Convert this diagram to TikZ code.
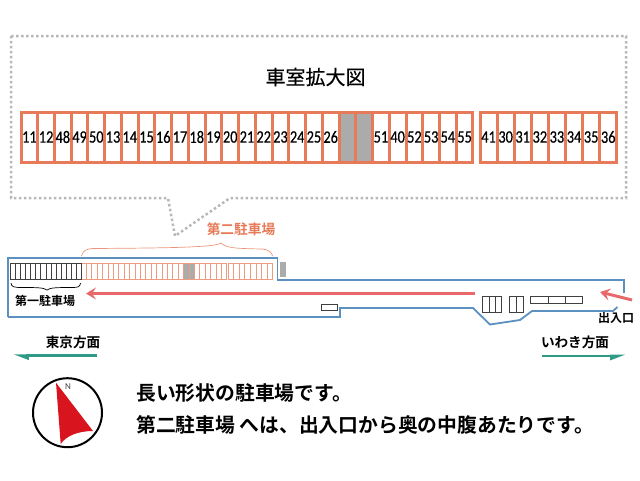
\documentclass[tikz,border=0pt]{standalone}
\usepackage{fontspec}
\usepackage{tikz}
\usetikzlibrary{
        arrows,
        arrows.meta,
        positioning
    }
\setmainfont{Carlito}
\newfontfamily\numfont[FakeStretch=0.82,FakeBold=0.5]{Carlito}
\newfontfamily\jpfont[FakeBold=0.3]{Noto Sans CJK JP}
\newfontfamily\jpboldfont{Noto Sans CJK JP Bold}
\definecolor{slotorange}{HTML}{E77B59}
\definecolor{lotblue}{HTML}{5B90C0}
\definecolor{routered}{HTML}{E8696B}
\definecolor{dirgreen}{HTML}{2F9A85}
\definecolor{baygray}{HTML}{ABABAB}
\definecolor{dialred}{HTML}{D8141E}
\tikzset{
    slot/.style={draw=slotorange,line width=3pt,minimum width=#1,minimum height=50pt,inner sep=0pt,font=\numfont\fontsize{17.5}{17.5}\selectfont},
    slot/.default=16.74pt,
    taken/.style={slot,fill=baygray},
    tinyslot/.style={draw=slotorange!75,line width=0.8pt},
    darkslot/.style={draw=black!75,line width=0.7pt},
    lotline/.style={draw=lotblue,line width=1.8pt},
    route/.style={draw=routered,line width=3pt,-{Stealth[length=10pt,width=12pt,inset=4pt]}},
    heading/.style={inner sep=0pt,font=\jpboldfont\fontsize{#1}{#1}\selectfont},
    dirarrow/.style={draw=dirgreen,line width=2.6pt,-{Stealth[harpoon,length=12pt,width=8pt,inset=0pt]}}
}
\begin{document}
\begin{tikzpicture}[x=1pt,y=-1pt]
                    \useasboundingbox (0,0) rectangle (640,480);

                    \draw[draw=black!28,line width=2.5pt,dash pattern=on 2.5pt off 2.5pt]
                            (11,36) -- (626,36) -- (626,198) -- (230,198) -- (175,236) -- (168,198) -- (11,198) -- cycle;
                    \node[inner sep=0pt,font=\jpfont\fontsize{20}{20}\selectfont] (title) at (315.5,77) {車室拡大図};

                    \foreach \n [count=\i] in {11,12,48,49,50,13,14,15,16,17,18,19,20,21,22,23,24,25,26,,,51,40,52,53,54,55}{
                        \node[slot] (a\i) at ({21+16.74*(\i-0.5)},137) {\n};
                    }
                    \foreach \n [count=\i] in {41,30,31,32,33,34,35,36}{
                        \node[slot=17.1pt] (b\i) at ({480+17.1*(\i-0.5)},137) {\n};
                    }
                    \node[taken] (g1) at (a20) {};
                    \node[taken] (g2) at (a21) {};

                    \draw[lotline] (8,317) -- (8,258) -- (277.5,258) -- (277.5,280) -- (624,280) -- (624,293);
                    \draw[lotline] (617.5,307) -- (613,311) -- (532,311) -- (520,320) -- (490,324.5) -- (473,308) -- (340,308) -- (340,317) -- (8,317);

                    \fill[baygray] (183,263) rectangle (194,279);
                    \fill[baygray] (279.5,261.5) rectangle (286,277);
                    \foreach \i in {0,...,26}{
                        \draw[tinyslot] ({81+5.4*\i},263) rectangle ({81+5.4*(\i+1)},279);
                    }
                    \foreach \i in {0,...,7}{
                        \draw[tinyslot] ({228+5.6*\i},263) rectangle ({228+5.6*(\i+1)},279);
                    }
                    \foreach \i in {0,...,13}{
                        \draw[darkslot] ({10.5+5.05*\i},263) rectangle ({10.5+5.05*(\i+1)},279);
                    }
                    \foreach \i in {0,1,2}{
                        \draw[darkslot,line width=0.9pt] ({482.7+6.4*\i},296.7) rectangle ({482.7+6.4*(\i+1)},312.7);
                        \draw[darkslot,line width=0.9pt] ({530.7+17.3*\i},296.7) rectangle ({530.7+17.3*(\i+1)},303.3);
                    }
                    \foreach \i in {0,1}{
                        \draw[darkslot,line width=0.9pt] ({509+7*\i},296.7) rectangle ({509+7*(\i+1)},312.7);
                    }
                    \draw[darkslot,line width=0.9pt] (321,304) rectangle (337,310);

                    \draw[slotorange!80,line width=0.7pt] (81.5,256) .. controls (83,250) and (87,248.5) .. (95,248.5)
                            .. controls (150,248) and (215,248) .. (221,243)
                            .. controls (226,248) and (235,248.5) .. (262,249)
                            .. controls (268,249.5) and (272,252) .. (272.5,256);
                    \draw[black,line width=0.7pt] (11,283) .. controls (11.5,287) and (14,287.5) .. (22,287.5)
                            .. controls (36,287.5) and (44,287.5) .. (47,290)
                            .. controls (50,287.5) and (58,287.5) .. (72,287.5)
                            .. controls (78,287.5) and (80,287) .. (80.5,283);

                    \node[heading=13.7,text=slotorange] (second) at (241,229) {第二駐車場};
                    \node[heading=12] (first) at (45,301) {第一駐車場};
                    \node[heading=12] (gate) at (616,318) {出入口};
                    \node[heading=13.6] (tokyo) at (73,342) {東京方面};
                    \node[heading=13.6] (iwaki) at (575,342) {いわき方面};

                    \coordinate (r1) at (475,293.5);
                    \coordinate (r2) at (86,293.5);
                    \coordinate (e1) at (632,300);
                    \coordinate (e2) at (600,292);
                    \draw[route] (r1) -- (r2);
                    \draw[route] (e1) -- (e2);

                    \coordinate (t1) at (97,355.7);
                    \coordinate (t2) at (13,355.7);
                    \coordinate (w1) at (542,356);
                    \coordinate (w2) at (626,356);
                    \draw[dirarrow] (t1) -- (t2);
                    \draw[dirarrow,-{Stealth[harpoon,swap,length=12pt,width=8pt,inset=0pt]}] (w1) -- (w2);

                    \node[draw=black,line width=2pt,circle,minimum size=69pt,inner sep=0pt] (dial) at (67.5,412.7) {};
                    \fill[dialred] (56,382.7) -- (93,431) .. controls (78,431) and (66,436) .. (60.7,444) -- cycle;
                    \node[inner sep=0pt,font=\fontsize{9}{9}\selectfont,text=black!75] (north) at (68,387) {N};

                    \node[heading=19.8,anchor=west] (line1) at (136,393) {長い形状の駐車場です。};
                    \node[heading=19.8,anchor=west] (line2) at (136,425) {第二駐車場 へは、出入口から奥の中腹あたりです。};
                    \end{tikzpicture}
\end{document}
